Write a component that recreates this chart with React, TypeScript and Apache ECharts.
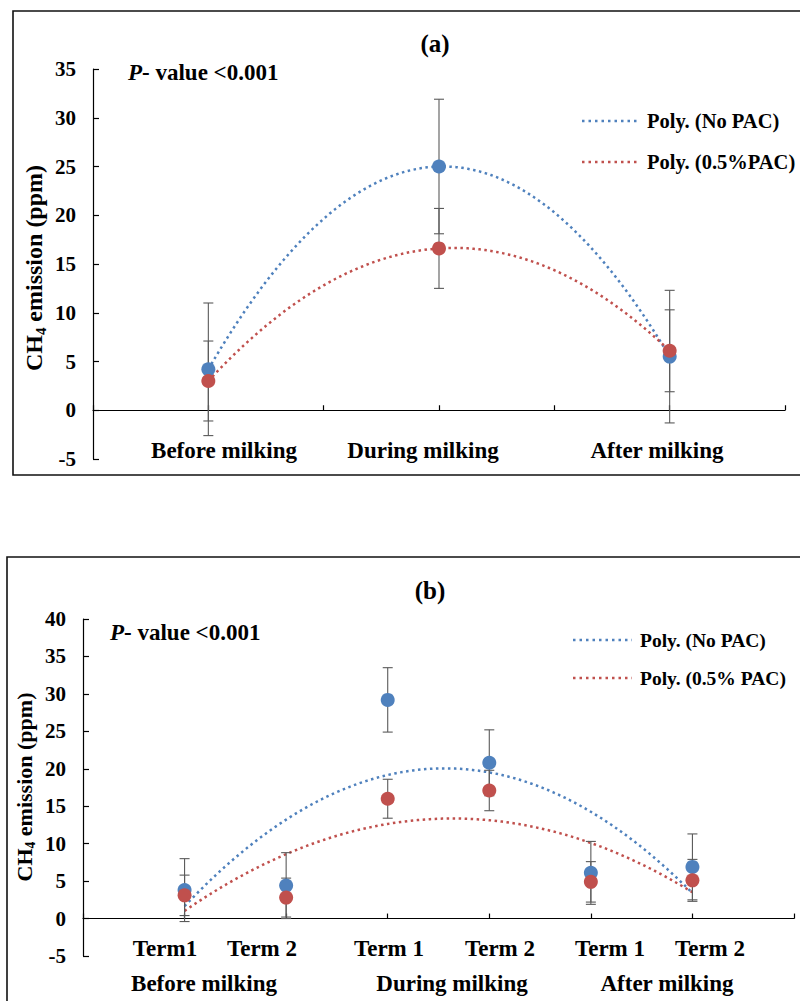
import React, { useEffect, useRef } from "react";
import * as echarts from "echarts";

// Panel (a): three milking stages
const stagesA = ["Before milking", "During milking", "After milking"];
const stageXA = [1, 2, 3];
const noPacA = [4.2, 25.0, 5.5];
const noPacErrA = [6.8, 6.9, 6.8];
const pacA = [3.0, 16.6, 6.1];
const pacErrA = [4.1, 4.1, 4.2];

// Panel (b): two terms within each stage
const termsB = ["Term1", "Term 2", "Term 1", "Term 2", "Term 1", "Term 2"];
const stagesB = ["Before milking", "During milking", "After milking"];
const termXB = [1, 2, 3, 4, 5, 6];
const noPacB = [3.8, 4.4, 29.2, 20.8, 6.1, 6.9];
const noPacErrB = [4.2, 4.4, 4.3, 4.4, 4.2, 4.4];
const pacB = [3.1, 2.8, 16.0, 17.1, 4.9, 5.1];
const pacErrB = [2.7, 2.6, 2.6, 2.7, 2.7, 2.8];

const legendNames = ["Poly. (No PAC)", "Poly. (0.5%PAC)"];
const legendNamesB = ["Poly. (No PAC)", "Poly. (0.5% PAC)"];
const pValueText = "- value <0.001";

const BLUE = "#4F81BD";
const RED = "#C0504D";
const SERIF = '"Liberation Serif", "Times New Roman", serif';

// second-order least-squares fit (Excel "Poly." trendline)
function polyfit2(xs: number[], ys: number[]) {
  const s = [0, 0, 0, 0, 0];
  const t = [0, 0, 0];
  for (let i = 0; i < xs.length; i++) {
    let p = 1;
    for (let k = 0; k < 5; k++) {
      s[k] += p;
      if (k < 3) t[k] += p * ys[i];
      p *= xs[i];
    }
  }
  const m = [
    [s[0], s[1], s[2], t[0]],
    [s[1], s[2], s[3], t[1]],
    [s[2], s[3], s[4], t[2]],
  ];
  for (let c = 0; c < 3; c++) {
    for (let r = c + 1; r < 3; r++) {
      const f = m[r][c] / m[c][c];
      for (let k = c; k < 4; k++) m[r][k] -= f * m[c][k];
    }
  }
  const coef = [0, 0, 0];
  for (let r = 2; r >= 0; r--) {
    let v = m[r][3];
    for (let k = r + 1; k < 3; k++) v -= m[r][k] * coef[k];
    coef[r] = v / m[r][r];
  }
  return (x: number) => coef[0] + coef[1] * x + coef[2] * x * x;
}

function trendPoints(xs: number[], ys: number[], steps: number) {
  const f = polyfit2(xs, ys);
  const x0 = xs[0];
  const x1 = xs[xs.length - 1];
  const pts: number[][] = [];
  for (let i = 0; i <= steps; i++) {
    const x = x0 + ((x1 - x0) * i) / steps;
    pts.push([x, f(x)]);
  }
  return pts;
}

const errorBarSeries = (
  xs: number[],
  ys: number[],
  errs: number[],
  axisIndex: number
) => ({
  type: "custom",
  xAxisIndex: axisIndex,
  yAxisIndex: axisIndex,
  z: 3,
  silent: true,
  encode: { x: 0, y: 1 },
  data: xs.map((x, i) => [x, ys[i], errs[i]]),
  renderItem: (_params: any, api: any) => {
    const x = api.value(0);
    const y = api.value(1);
    const e = api.value(2);
    const top = api.coord([x, y + e]);
    const bot = api.coord([x, y - e]);
    const hw = 5;
    const style = { stroke: "#5a5a5a", lineWidth: 1.1 };
    return {
      type: "group",
      children: [
        { type: "line", shape: { x1: top[0], y1: top[1], x2: bot[0], y2: bot[1] }, style },
        { type: "line", shape: { x1: top[0] - hw, y1: top[1], x2: top[0] + hw, y2: top[1] }, style },
        { type: "line", shape: { x1: bot[0] - hw, y1: bot[1], x2: bot[0] + hw, y2: bot[1] }, style },
      ],
    };
  },
});

const markerSeries = (name: string, xs: number[], ys: number[], color: string, axisIndex: number) => ({
  name,
  type: "scatter",
  xAxisIndex: axisIndex,
  yAxisIndex: axisIndex,
  z: 4,
  symbol: "circle",
  symbolSize: 14,
  itemStyle: { color, opacity: 1 },
  data: xs.map((x, i) => [x, ys[i]]),
});

const trendSeries = (name: string, xs: number[], ys: number[], color: string, axisIndex: number, steps: number) => ({
  name,
  type: "line",
  xAxisIndex: axisIndex,
  yAxisIndex: axisIndex,
  z: 2,
  showSymbol: false,
  symbol: "none",
  smooth: false,
  lineStyle: { color, width: 2.5, type: [2.5, 3.5] },
  data: trendPoints(xs, ys, steps),
});

const axisLineStyle = { color: "#000", width: 1.2 };
const tickLabel = { color: "#000", fontFamily: SERIF, fontWeight: "bold", fontSize: 21 };

const xAxisBase = {
  type: "value",
  axisLine: { show: true, onZero: true, lineStyle: axisLineStyle },
  axisTick: { show: true, inside: true, length: 5, lineStyle: axisLineStyle },
  axisLabel: { show: false },
  splitLine: { show: false },
};

const yAxisBase = {
  type: "value",
  interval: 5,
  axisLine: { show: true, onZero: false, lineStyle: axisLineStyle },
  axisTick: { show: true, inside: true, length: 6, lineStyle: axisLineStyle },
  axisLabel: { ...tickLabel, margin: 17 },
  splitLine: { show: false },
};

const boldText = (text: string, x: number, y: number, size: number, align = "center") => ({
  type: "text",
  x,
  y,
  silent: true,
  style: {
    text,
    fill: "#000",
    font: `bold ${size}px ${SERIF}`,
    align,
    verticalAlign: "middle",
  },
});

const yTitle = (x: number, y: number, size: number) => ({
  type: "text",
  x,
  y,
  rotation: Math.PI / 2,
  silent: true,
  style: {
    text: "{a|CH}{s|4}{a| emission (ppm)}",
    align: "center",
    verticalAlign: "middle",
    fill: "#000",
    rich: {
      a: { fontFamily: SERIF, fontWeight: "bold", fontSize: size, lineHeight: size + 4, fill: "#000", color: "#000" },
      s: { fontFamily: SERIF, fontWeight: "bold", fontSize: size * 0.62, lineHeight: size * 0.62, verticalAlign: "bottom", fill: "#000", color: "#000" },
    },
  },
});

const pValue = (x: number, y: number, size: number) => ({
  type: "text",
  x,
  y,
  silent: true,
  style: {
    text: `{i|P}{n|${pValueText}}`,
    align: "left",
    verticalAlign: "middle",
    rich: {
      i: { fontFamily: SERIF, fontWeight: "bold", fontStyle: "italic", fontSize: size, fill: "#000", color: "#000" },
      n: { fontFamily: SERIF, fontWeight: "bold", fontSize: size, fill: "#000", color: "#000" },
    },
  },
});

const legendEntry = (x1: number, x2: number, y: number, color: string, label: string, size: number) => [
  {
    type: "line",
    silent: true,
    shape: { x1, y1: y, x2, y2: y },
    style: { stroke: color, lineWidth: 2.5, lineDash: [2.5, 4] },
  },
  boldText(label, x2 + 8, y, size, "left"),
];

export default function App() {
  const ref = useRef<HTMLDivElement>(null);

  useEffect(() => {
    if (!ref.current) return;
    const chart = echarts.init(ref.current, null, { renderer: "svg" });

    const option: any = {
      animation: false,
      backgroundColor: "#fff",
      grid: [
        { left: 93, top: 69, width: 692, height: 390 },
        { left: 83, top: 619, width: 711, height: 337 },
      ],
      xAxis: [
        { ...xAxisBase, gridIndex: 0, min: 0.5, max: 3.5, interval: 0.5 },
        { ...xAxisBase, gridIndex: 1, min: 0, max: 7, interval: 1 },
      ],
      yAxis: [
        { ...yAxisBase, gridIndex: 0, min: -5, max: 35 },
        { ...yAxisBase, gridIndex: 1, min: -5, max: 40 },
      ],
      series: [
        trendSeries(legendNames[0], stageXA, noPacA, BLUE, 0, 80),
        trendSeries(legendNames[1], stageXA, pacA, RED, 0, 80),
        errorBarSeries(stageXA, noPacA, noPacErrA, 0),
        errorBarSeries(stageXA, pacA, pacErrA, 0),
        markerSeries("No PAC", stageXA, noPacA, BLUE, 0),
        markerSeries("0.5%PAC", stageXA, pacA, RED, 0),

        trendSeries(legendNamesB[0] + " ", termXB, noPacB, BLUE, 1, 120),
        trendSeries(legendNamesB[1], termXB, pacB, RED, 1, 120),
        errorBarSeries(termXB, noPacB, noPacErrB, 1),
        errorBarSeries(termXB, pacB, pacErrB, 1),
        markerSeries("No PAC ", termXB, noPacB, BLUE, 1),
        markerSeries("0.5% PAC", termXB, pacB, RED, 1),
      ],
      graphic: [
        // panel frames
        {
          type: "rect",
          silent: true,
          shape: { x: 13, y: 11, width: 800, height: 464 },
          style: { fill: "none", stroke: "#111", lineWidth: 1.6 },
        },
        {
          type: "rect",
          silent: true,
          shape: { x: 7, y: 557, width: 800, height: 470 },
          style: { fill: "none", stroke: "#111", lineWidth: 1.6 },
        },
        // panel (a) texts
        boldText("(a)", 435, 43, 25),
        pValue(128, 72, 23),
        yTitle(34, 268, 24),
        boldText(stagesA[0], 224, 450, 23),
        boldText(stagesA[1], 423, 450, 23),
        boldText(stagesA[2], 657, 450, 23),
        ...legendEntry(582, 639, 121, BLUE, legendNames[0], 20.5),
        ...legendEntry(582, 639, 162, RED, legendNames[1], 20.5),
        // panel (b) texts
        boldText("(b)", 430, 590, 25),
        pValue(110, 632, 23),
        yTitle(24, 787, 22),
        boldText(termsB[0], 165, 948, 23),
        boldText(termsB[1], 262, 948, 23),
        boldText(termsB[2], 389, 948, 23),
        boldText(termsB[3], 500, 948, 23),
        boldText(termsB[4], 610, 948, 23),
        boldText(termsB[5], 710, 948, 23),
        boldText(stagesB[0], 204, 983, 23),
        boldText(stagesB[1], 452, 983, 23),
        boldText(stagesB[2], 667, 983, 23),
        ...legendEntry(573, 632, 640, BLUE, legendNamesB[0], 19.5),
        ...legendEntry(573, 632, 678, RED, legendNamesB[1], 19.5),
      ],
    };

    chart.setOption(option);
    return () => chart.dispose();
  }, []);

  return (
    <div
      ref={ref}
      style={{ position: "absolute", left: 0, top: 0, width: 800, height: 1001, background: "#fff" }}
    />
  );
}
